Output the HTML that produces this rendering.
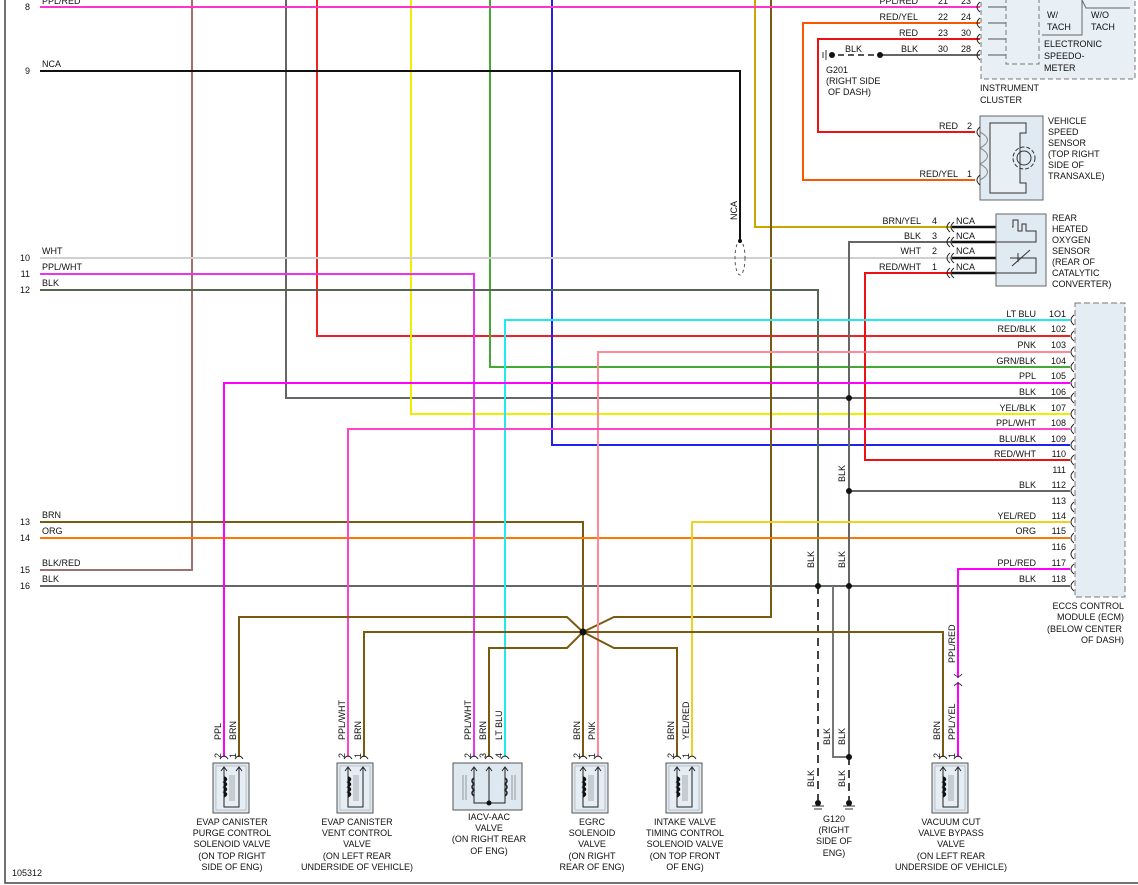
<!DOCTYPE html>
<html><head><meta charset="utf-8"><style>
body{margin:0;background:#fff}
svg{display:block}
text{font-family:"Liberation Sans",Arial,sans-serif;font-size:9px;fill:#111}
</style></head><body>
<svg width="1138" height="885" viewBox="0 0 1138 885" xmlns="http://www.w3.org/2000/svg">
<defs>
<g id="sol">
<rect x="0" y="0" width="36" height="50" fill="#dde8f0" stroke="#555" stroke-width="1"/>
<rect x="3" y="3" width="30" height="44" fill="#e6eef5" stroke="#999" stroke-width="0.5"/>
<path d="M11,4 V44 H26 V4 M8,8 L11,4 L14,8 M23,8 L26,4 L29,8" fill="none" stroke="#222" stroke-width="1"/>
<path d="M11,14 q5,2 0,5 q5,2 0,5 q5,2 0,5 q5,2 0,5" fill="#111" stroke="#111" stroke-width="1.5"/>
<path d="M17,12 V38 M19,12 V38 M21,12 V38" stroke="#999" stroke-width="0.8"/>
</g>
<path id="cn" d="M-4,4 Q0,-2 4,4" fill="none" stroke="#222" stroke-width="1"/>
<path id="cl" d="M4,-5 Q-2,0 4,5" fill="none" stroke="#222" stroke-width="1"/>
</defs>
<!-- frame -->
<path d="M5,0 V883 H1138" fill="none" stroke="#444" stroke-width="1.5"/>

<g fill="none" stroke-width="2">
<!-- verticals from top -->
<path d="M192,0 V570 H40" stroke="#a07070"/>
<path d="M286,0 V398 H1070" stroke="#666"/>
<path d="M317,0 V336 H1070" stroke="#ee2222"/>
<path d="M411,0 V414 H1070" stroke="#eeee00"/>
<path d="M490,0 V367 H1070" stroke="#44aa33"/>
<path d="M552,0 V445 H1070" stroke="#2222ee"/>
<path d="M755,0 V227 H975" stroke="#c8a800"/>
<path d="M771,0 V617 H614 L583,632" stroke="#7a5a10"/>
<!-- left rows -->
<path d="M40,7 H980" stroke="#ff33cc"/>
<path d="M40,71 H740 V240" stroke="#111"/>
<path d="M40,258 H975" stroke="#d0d0d0"/>
<path d="M40,274 H474 V757" stroke="#ee33ee"/>
<path d="M40,290 H818 V586" stroke="#556655"/>
<path d="M40,522 H583 V757" stroke="#7a5a10"/>
<path d="M40,538 H1070" stroke="#ff7700"/>
<path d="M40,586 H1070" stroke="#666"/>
<!-- top right -->
<path d="M980,23 H803 V180 H975" stroke="#ff5500"/>
<path d="M980,39 H818 V132 H975" stroke="#ee1111"/>
<path d="M880,55 H980" stroke="#666"/>
<path d="M838,55 H880" stroke="#555" stroke-dasharray="6,4"/>
<!-- O2 -->
<path d="M975,242 H849 V757" stroke="#666"/>
<path d="M975,273 H865 V460 H1070" stroke="#ee1111"/>
<path d="M952,227 H996 M952,242 H996 M952,258 H996 M952,273 H996" stroke="#111" stroke-width="2.5"/>
<!-- ECM feeds -->
<path d="M505,757 V320 H1070" stroke="#22e8f0"/>
<path d="M598,757 V352 H1070" stroke="#ff8899"/>
<path d="M224,757 V383 H1070" stroke="#ff00ff"/>
<path d="M348,757 V429 H1070" stroke="#ff44cc"/>
<path d="M849,491 H1070" stroke="#666"/>
<path d="M692,757 V522 H1070" stroke="#f0d020"/>
<path d="M958,678 V569 H1070" stroke="#ff00ff"/>
<path d="M958,682 V757" stroke="#ff00ff"/>
<!-- grounds -->
<path d="M833,586 V757 H849" stroke="#777"/>
<path d="M818,586 V800 M849,757 V800" stroke="#444" stroke-dasharray="8,5"/>
<!-- brown harness -->
<path d="M239,757 V617 H567 L583,632 L567,648 H489 V757" stroke="#7a5a10"/>
<path d="M364,757 V632 H943 V757" stroke="#7a5a10"/>
<path d="M583,632 L614,648 H677 V757" stroke="#7a5a10"/>
</g>
<!-- NCA oval -->
<ellipse cx="740" cy="258" rx="5" ry="17" fill="none" stroke="#555" stroke-dasharray="3,3"/>
<!-- dots -->
<g fill="#111">
<circle cx="583" cy="632" r="3.5"/><circle cx="880" cy="55" r="3"/><circle cx="832" cy="55" r="3"/>
<circle cx="849" cy="398" r="3"/><circle cx="849" cy="491" r="3"/><circle cx="849" cy="586" r="3"/>
<circle cx="818" cy="586" r="3"/><circle cx="849" cy="757" r="3"/><circle cx="740" cy="241" r="2"/>
<circle cx="818" cy="803" r="3"/><circle cx="849" cy="803" r="3"/>
</g>
<path d="M826,50 V60 M823,52 V58" stroke="#333"/>
<path d="M812,806 H824 M814,809 H822 M843,806 H855 M845,809 H853" stroke="#333"/>

<!-- left labels -->
<g text-anchor="end">
<text x="30" y="10">8</text><text x="30" y="74">9</text><text x="30" y="261">10</text><text x="30" y="277">11</text><text x="30" y="293">12</text><text x="30" y="525">13</text><text x="30" y="541">14</text><text x="30" y="573">15</text><text x="30" y="589">16</text>
</g>
<text x="42" y="4">PPL/RED</text><text x="42" y="67">NCA</text><text x="42" y="254">WHT</text><text x="42" y="270">PPL/WHT</text><text x="42" y="286">BLK</text><text x="42" y="518">BRN</text><text x="42" y="534">ORG</text><text x="42" y="566">BLK/RED</text><text x="42" y="582">BLK</text>

<!-- instrument cluster -->
<rect x="981" y="-5" width="154" height="84" fill="#e8f0f6" stroke="#777" stroke-dasharray="5,3"/>
<path d="M1006,-2 V64 H1039 V-2" fill="none" stroke="#777" stroke-dasharray="5,3"/>
<path d="M1082,0 V35 H1042 M1082,0 L1086,8 L1130,8" fill="none" stroke="#666"/>
<path d="M1006,7 H988 M1006,23 H988 M1006,39 H988 M1006,55 H988" stroke="#555"/>
<g><use href="#cl" x="976" y="7"/><use href="#cl" x="976" y="23"/><use href="#cl" x="976" y="39"/><use href="#cl" x="976" y="55"/></g>
<text x="1047" y="18">W/</text><text x="1047" y="30">TACH</text><text x="1091" y="18">W/O</text><text x="1091" y="30">TACH</text>
<text x="1044" y="47">ELECTRONIC</text><text x="1044" y="59">SPEEDO-</text><text x="1044" y="71">METER</text>
<text x="980" y="91">INSTRUMENT</text><text x="980" y="103">CLUSTER</text>
<g text-anchor="end"><text x="918" y="4">PPL/RED</text><text x="918" y="20">RED/YEL</text><text x="918" y="36">RED</text><text x="918" y="52">BLK</text>
<text x="948" y="4">21</text><text x="948" y="20">22</text><text x="948" y="36">23</text><text x="948" y="52">30</text>
<text x="971" y="4">23</text><text x="971" y="20">24</text><text x="971" y="36">30</text><text x="971" y="52">28</text></g>
<text x="845" y="52">BLK</text><text x="826" y="73">G201</text><text x="826" y="84">(RIGHT SIDE</text><text x="828" y="95">OF DASH)</text>

<!-- VSS -->
<rect x="980" y="116" width="63" height="84" fill="#e0eaf2" stroke="#666"/>
<path d="M990,123 H1026 V133 H1020 V183 H1026 V193 H990 Z" fill="#e8f0f6" stroke="#333"/>
<circle cx="1024" cy="158" r="11" fill="none" stroke="#333" stroke-dasharray="4,2"/><circle cx="1024" cy="158" r="7" fill="none" stroke="#333"/>
<use href="#cl" x="976" y="132"/><use href="#cl" x="976" y="180"/>
<path d="M980,132 Q995,140 980,148 Q995,156 980,164 Q995,172 980,180" fill="none" stroke="#888"/>
<g text-anchor="end"><text x="958" y="129">RED</text><text x="972" y="129">2</text><text x="958" y="177">RED/YEL</text><text x="972" y="177">1</text></g>
<text x="1048" y="124">VEHICLE</text><text x="1048" y="135">SPEED</text><text x="1048" y="146">SENSOR</text><text x="1048" y="157">(TOP RIGHT</text><text x="1048" y="168">SIDE OF</text><text x="1048" y="179">TRANSAXLE)</text>

<!-- O2 -->
<rect x="996" y="214" width="50" height="72" fill="#e0eaf2" stroke="#666"/>
<path d="M1012,227 H1013 V220 H1018 V231 H1022 V224 H1026 V231 H1036 V242 H996 M1010,258 H1036 V273 H996" fill="none" stroke="#333"/>
<path d="M1012,266 L1030,250 M1018,253 V262" stroke="#333"/>
<g><use href="#cl" x="946" y="227"/><use href="#cl" x="950" y="227"/><use href="#cl" x="946" y="242"/><use href="#cl" x="950" y="242"/><use href="#cl" x="946" y="258"/><use href="#cl" x="950" y="258"/><use href="#cl" x="946" y="273"/><use href="#cl" x="950" y="273"/></g>
<g text-anchor="end"><text x="921" y="224">BRN/YEL</text><text x="921" y="239">BLK</text><text x="921" y="254">WHT</text><text x="921" y="270">RED/WHT</text>
<text x="937" y="224">4</text><text x="937" y="239">3</text><text x="937" y="254">2</text><text x="937" y="270">1</text></g>
<text x="956" y="224">NCA</text><text x="956" y="239">NCA</text><text x="956" y="254">NCA</text><text x="956" y="270">NCA</text>
<text x="1052" y="221">REAR</text><text x="1052" y="232">HEATED</text><text x="1052" y="243">OXYGEN</text><text x="1052" y="254">SENSOR</text><text x="1052" y="265">(REAR OF</text><text x="1052" y="276">CATALYTIC</text><text x="1052" y="287">CONVERTER)</text>

<!-- ECM -->
<rect x="1075" y="303" width="50" height="294" fill="#e4edf4" stroke="#777" stroke-dasharray="6,3"/>
<g>
<use href="#cl" x="1070" y="320"/><use href="#cl" x="1070" y="336"/><use href="#cl" x="1070" y="352"/><use href="#cl" x="1070" y="367"/><use href="#cl" x="1070" y="383"/><use href="#cl" x="1070" y="398"/><use href="#cl" x="1070" y="414"/><use href="#cl" x="1070" y="429"/><use href="#cl" x="1070" y="445"/><use href="#cl" x="1070" y="460"/><use href="#cl" x="1070" y="476"/><use href="#cl" x="1070" y="491"/><use href="#cl" x="1070" y="507"/><use href="#cl" x="1070" y="522"/><use href="#cl" x="1070" y="538"/><use href="#cl" x="1070" y="554"/><use href="#cl" x="1070" y="569"/><use href="#cl" x="1070" y="586"/>
</g>
<g text-anchor="end">
<text x="1036" y="317">LT BLU</text><text x="1036" y="332">RED/BLK</text><text x="1036" y="348">PNK</text><text x="1036" y="364">GRN/BLK</text><text x="1036" y="379">PPL</text><text x="1036" y="395">BLK</text><text x="1036" y="411">YEL/BLK</text><text x="1036" y="426">PPL/WHT</text><text x="1036" y="442">BLU/BLK</text><text x="1036" y="457">RED/WHT</text><text x="1036" y="488">BLK</text><text x="1036" y="519">YEL/RED</text><text x="1036" y="534">ORG</text><text x="1036" y="566">PPL/RED</text><text x="1036" y="582">BLK</text>
<text x="1066" y="317">1O1</text><text x="1066" y="332">102</text><text x="1066" y="348">103</text><text x="1066" y="364">104</text><text x="1066" y="379">105</text><text x="1066" y="395">106</text><text x="1066" y="411">107</text><text x="1066" y="426">108</text><text x="1066" y="442">109</text><text x="1066" y="457">110</text><text x="1066" y="473">111</text><text x="1066" y="488">112</text><text x="1066" y="504">113</text><text x="1066" y="519">114</text><text x="1066" y="534">115</text><text x="1066" y="550">116</text><text x="1066" y="566">117</text><text x="1066" y="582">118</text>
<text x="1124" y="609">ECCS CONTROL</text><text x="1124" y="620">MODULE (ECM)</text><text x="1122" y="632">(BELOW CENTER</text><text x="1124" y="643">OF DASH)</text>
</g>
<!-- PPL/RED inline connector -->
<path d="M954,674 Q958,679 962,674 M954,686 Q958,681 962,686" fill="none" stroke="#333"/>

<!-- rotated wire labels -->
<g>
<text transform="translate(737,220) rotate(-90)">NCA</text>
<text transform="translate(845,482) rotate(-90)">BLK</text>
<text transform="translate(814,568) rotate(-90)">BLK</text>
<text transform="translate(845,568) rotate(-90)">BLK</text>
<text transform="translate(830,745) rotate(-90)">BLK</text>
<text transform="translate(845,745) rotate(-90)">BLK</text>
<text transform="translate(814,787) rotate(-90)">BLK</text>
<text transform="translate(845,787) rotate(-90)">BLK</text>
<text transform="translate(955,663) rotate(-90)">PPL/RED</text>
<text transform="translate(955,740) rotate(-90)">PPL/YEL</text>
<text transform="translate(940,740) rotate(-90)">BRN</text>
<text transform="translate(221,740) rotate(-90)">PPL</text>
<text transform="translate(236,740) rotate(-90)">BRN</text>
<text transform="translate(345,740) rotate(-90)">PPL/WHT</text>
<text transform="translate(361,740) rotate(-90)">BRN</text>
<text transform="translate(471,740) rotate(-90)">PPL/WHT</text>
<text transform="translate(486,740) rotate(-90)">BRN</text>
<text transform="translate(502,740) rotate(-90)">LT BLU</text>
<text transform="translate(580,740) rotate(-90)">BRN</text>
<text transform="translate(595,740) rotate(-90)">PNK</text>
<text transform="translate(674,740) rotate(-90)">BRN</text>
<text transform="translate(689,740) rotate(-90)">YEL/RED</text>
<text transform="translate(221,758) rotate(-90)">2</text><text transform="translate(236,758) rotate(-90)">1</text>
<text transform="translate(345,758) rotate(-90)">2</text><text transform="translate(361,758) rotate(-90)">1</text>
<text transform="translate(471,758) rotate(-90)">2</text><text transform="translate(486,758) rotate(-90)">3</text><text transform="translate(502,758) rotate(-90)">4</text>
<text transform="translate(580,758) rotate(-90)">2</text><text transform="translate(595,758) rotate(-90)">1</text>
<text transform="translate(674,758) rotate(-90)">2</text><text transform="translate(689,758) rotate(-90)">1</text>
<text transform="translate(940,758) rotate(-90)">2</text><text transform="translate(955,758) rotate(-90)">1</text>
</g>
<!-- pin connectors -->
<g>
<use href="#cn" x="224" y="755"/><use href="#cn" x="239" y="755"/><use href="#cn" x="348" y="755"/><use href="#cn" x="364" y="755"/>
<use href="#cn" x="474" y="755"/><use href="#cn" x="489" y="755"/><use href="#cn" x="505" y="755"/>
<use href="#cn" x="583" y="755"/><use href="#cn" x="598" y="755"/><use href="#cn" x="677" y="755"/><use href="#cn" x="692" y="755"/>
<use href="#cn" x="943" y="755"/><use href="#cn" x="958" y="755"/>
</g>
<!-- components -->
<use href="#sol" x="213" y="763"/>
<use href="#sol" x="337" y="763"/>
<use href="#sol" x="572" y="763"/>
<use href="#sol" x="666" y="763"/>
<use href="#sol" x="932" y="763"/>
<!-- IACV -->
<rect x="453" y="763" width="69" height="47" fill="#dde8f0" stroke="#555"/>
<path d="M474,767 V803 H505 V767 M489,767 V803 M471,771 L474,767 L477,771 M486,771 L489,767 L492,771 M502,771 L505,767 L508,771" fill="none" stroke="#222"/>
<path d="M474,778 q-4,3 0,6 q-4,3 0,6 q-4,3 0,6 M505,778 q4,3 0,6 q4,3 0,6 q4,3 0,6" fill="none" stroke="#222" stroke-width="1.5"/>
<path d="M463,775 V800 M466,775 V800 M512,775 V800 M515,775 V800" stroke="#999"/>
<circle cx="489" cy="803" r="2.5" fill="#111"/>

<!-- component labels -->
<g text-anchor="middle">
<text x="232" y="825">EVAP CANISTER</text><text x="232" y="836">PURGE CONTROL</text><text x="232" y="847">SOLENOID VALVE</text><text x="232" y="859">(ON TOP RIGHT</text><text x="232" y="870">SIDE OF ENG)</text>
<text x="357" y="825">EVAP CANISTER</text><text x="357" y="836">VENT CONTROL</text><text x="357" y="847">VALVE</text><text x="357" y="859">(ON LEFT REAR</text><text x="357" y="870">UNDERSIDE OF VEHICLE)</text>
<text x="489" y="820">IACV-AAC</text><text x="489" y="831">VALVE</text><text x="489" y="842">(ON RIGHT REAR</text><text x="489" y="854">OF ENG)</text>
<text x="592" y="825">EGRC</text><text x="592" y="836">SOLENOID</text><text x="592" y="847">VALVE</text><text x="592" y="859">(ON RIGHT</text><text x="592" y="870">REAR OF ENG)</text>
<text x="685" y="825">INTAKE VALVE</text><text x="685" y="836">TIMING CONTROL</text><text x="685" y="847">SOLENOID VALVE</text><text x="685" y="859">(ON TOP FRONT</text><text x="685" y="870">OF ENG)</text>
<text x="834" y="822">G120</text><text x="834" y="833">(RIGHT</text><text x="834" y="844">SIDE OF</text><text x="834" y="856">ENG)</text>
<text x="951" y="825">VACUUM CUT</text><text x="951" y="836">VALVE BYPASS</text><text x="951" y="847">VALVE</text><text x="951" y="859">(ON LEFT REAR</text><text x="951" y="870">UNDERSIDE OF VEHICLE)</text>
</g>
<text x="12" y="876">105312</text>
</svg>
</body></html>
